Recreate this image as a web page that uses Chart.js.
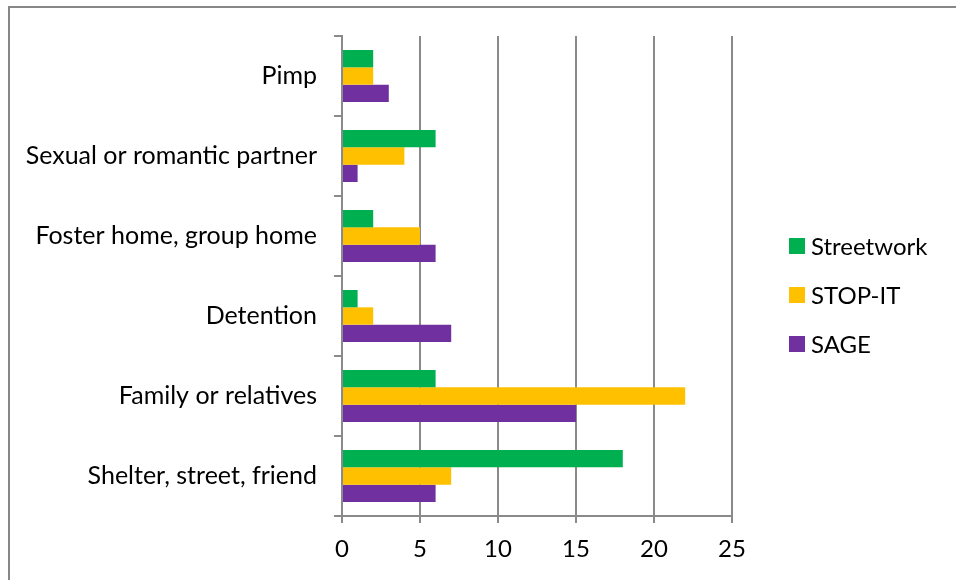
<!DOCTYPE html>
<html>
<head>
<meta charset="utf-8">
<script src="https://cdn.jsdelivr.net/npm/chart.js@4/dist/chart.umd.min.js"></script>
<style>
  html, body { margin: 0; padding: 0; background: #fff; overflow: hidden; }
  #frame {
    position: absolute; left: 8px; top: 6px; width: 980px; height: 600px;
    border: 2px solid #878787; box-sizing: border-box;
  }
  #wrap { position: absolute; left: 0; top: 0; width: 956px; height: 580px; }
</style>
</head>
<body>
<div id="frame"></div>
<div id="wrap"><canvas id="myChart"></canvas></div>
<script>
// categories, top to bottom
const places = [
  'Pimp',
  'Sexual or romantic partner',
  'Foster home, group home',
  'Detention',
  'Family or relatives',
  'Shelter, street, friend'
];
const streetwork = [2, 6, 2, 1, 6, 18];
const stopIt = [2, 4, 5, 2, 22, 7];
const sage = [3, 1, 6, 7, 15, 6];
const xTicks = [0, 5, 10, 15, 20, 25];

const fontFamily = 'Lato, "Open Sans", sans-serif';
const grey = '#8a8a8a';

// legend on the right, one row per dataset
const sideLegend = {
  id: 'sideLegend',
  afterDraw(chart) {
    const ctx = chart.ctx;
    const x = 789, y0 = 246, step = 49, box = 16;
    ctx.save();
    ctx.font = '24px ' + fontFamily;
    ctx.textBaseline = 'middle';
    ctx.textAlign = 'left';
    chart.data.datasets.forEach((ds, i) => {
      const y = y0 + i * step;
      ctx.fillStyle = ds.backgroundColor;
      ctx.fillRect(x, y - box / 2, box, box);
      ctx.fillStyle = '#000';
      ctx.fillText(ds.label, x + 22, y + 1);
    });
    ctx.restore();
  }
};

const data = {
  labels: places,
  datasets: [
    { label: 'Streetwork', data: streetwork, backgroundColor: '#00B050' },
    { label: 'STOP-IT', data: stopIt, backgroundColor: '#FFC000' },
    { label: 'SAGE', data: sage, backgroundColor: '#7030A0' }
  ]
};

const config = {
  type: 'bar',
  data,
  plugins: [sideLegend],
  options: {
    indexAxis: 'y',
    responsive: false,
    animation: false,
    categoryPercentage: 0.65,
    barPercentage: 1.0,
    layout: { padding: { top: 36, right: 224, left: 0, bottom: 0 } },
    plugins: {
      tooltip: { enabled: false },
      legend: { display: false }
    },
    scales: {
      x: {
        min: 0,
        max: 25,
        afterBuildTicks: (s) => { s.ticks = xTicks.map(v => ({ value: v })); },
        afterFit: (s) => { s.height = 64; },
        grid: { color: grey, lineWidth: 2, tickLength: 7, drawTicks: true },
        border: { color: grey, width: 2 },
        ticks: { color: '#000', padding: 12, font: { family: fontFamily, size: 24 } }
      },
      y: {
        afterFit: (s) => { s.width = 342; },
        grid: { offset: true, drawOnChartArea: false, color: grey, lineWidth: 2, tickLength: 8 },
        border: { color: grey, width: 2 },
        ticks: { color: '#000', padding: 17, font: { family: fontFamily, size: 25 } }
      }
    }
  }
};

const canvas = document.getElementById('myChart');
canvas.width = 956;
canvas.height = 580;
var myChart = new Chart(canvas, config);
</script>
</body>
</html>
